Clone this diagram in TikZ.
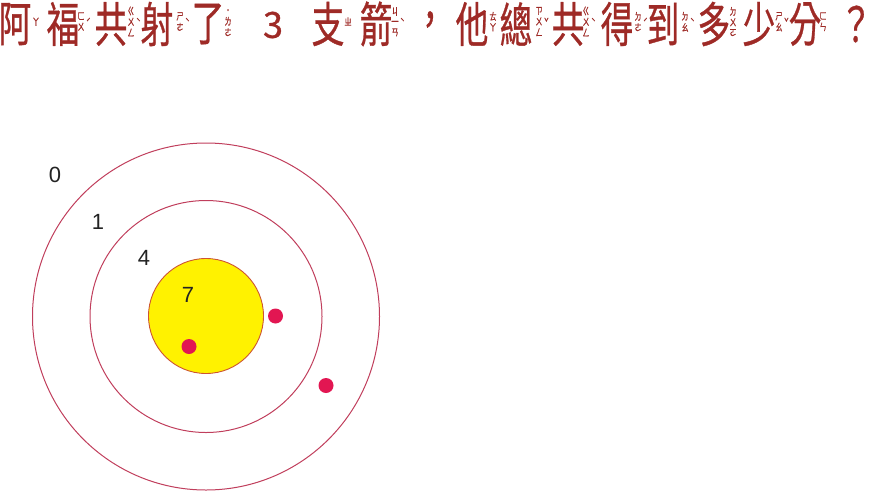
\documentclass[tikz,border=0pt]{standalone}
\usepackage{fontspec}
\usepackage{graphicx}
\setmainfont{Liberation Sans}
\newfontfamily\cjk[FakeBold=0.8]{Noto Sans CJK TC}
\newfontfamily\cjksmall[FakeBold=0.6]{Noto Sans CJK TC}
\definecolor{titlered}{RGB}{158,42,38}
\definecolor{ringc}{RGB}{192,62,92}
\definecolor{innerc}{RGB}{205,85,50}
\definecolor{yel}{RGB}{255,242,0}
\definecolor{dotc}{RGB}{226,22,82}
\definecolor{numc}{RGB}{35,35,35}
\newcommand\bigc[3]{\node[bigch] (#1) at (#2,-24) {\scalebox{0.68}[1]{#3}};}
\newcommand\zhu[4]{\node[zy] (#1) at (#2,-23) {\scalebox{0.72}[1]{\begin{tabular}{@{}c@{}}#3\end{tabular}}};
  \node[tonech, anchor=west] (#1t) at ([xshift=1pt,yshift=1pt]#1.east) {\scalebox{0.8}[1]{#4}};}
\begin{document}
\begin{tikzpicture}[x=1pt,y=1pt,
  bigch/.style={font=\cjk\fontsize{48}{48}\selectfont, text=titlered, inner sep=0pt},
  zy/.style={font=\cjksmall\fontsize{10}{10}\selectfont, text=titlered, inner sep=0pt},
  tonech/.style={font=\cjksmall\fontsize{10}{10}\selectfont, text=titlered, inner sep=0pt},
  numthree/.style={font=\cjk\fontsize{36}{36}\selectfont, text=titlered, inner sep=0pt},
  ring/.style={circle, draw=ringc, line width=1pt, inner sep=0pt},
  dot/.style={circle, fill=dotc, inner sep=0pt, minimum size=15pt},
  num/.style={font=\fontsize{22}{22}\selectfont, text=numc, inner sep=0pt}]
\useasboundingbox (0,0) rectangle (874,-490);
% title
\bigc{c1}{15}{阿} \zhu{z1}{36}{ㄚ}{}
\bigc{c2}{63}{福} \zhu{z2}{81}{ㄈ\\ㄨ}{ˊ}
\bigc{c3}{111}{共} \zhu{z3}{131}{ㄍ\\ㄨ\\ㄥ}{ˋ}
\bigc{c4}{157}{射} \zhu{z4}{180}{ㄕ\\ㄜ}{ˋ}
\bigc{c5}{208}{了} \zhu{z5}{228}{˙\\ㄌ\\ㄜ}{}
\node[numthree] (c6) at (273,-25) {3};
\bigc{c7}{328}{支} \zhu{z7}{348}{ㄓ}{}
\bigc{c8}{376}{箭} \zhu{z8}{395}{ㄐ\\一\\ㄢ}{ˋ}
\bigc{c9}{430}{，}
\bigc{c10}{472}{他} \zhu{z10}{493}{ㄊ\\ㄚ}{}
\bigc{c11}{516}{總} \zhu{z11}{539}{ㄗ\\ㄨ\\ㄥ}{ˇ}
\bigc{c12}{568}{共} \zhu{z12}{586}{ㄍ\\ㄨ\\ㄥ}{ˋ}
\bigc{c13}{617}{得} \zhu{z13}{638}{ㄉ\\ㄜ}{ˊ}
\bigc{c14}{663}{到} \zhu{z14}{685}{ㄉ\\ㄠ}{ˋ}
\bigc{c15}{714}{多} \zhu{z15}{733}{ㄉ\\ㄨ\\ㄛ}{}
\bigc{c16}{759}{少} \zhu{z16}{779}{ㄕ\\ㄠ}{ˇ}
\bigc{c17}{805}{分} \zhu{z17}{823}{ㄈ\\ㄣ}{}
\bigc{c18}{856}{？}
% target
\node[ring, minimum size=347pt] (outer) at (206,-316.5) {};
\node[ring, minimum size=232pt] (mid) at (206,-316.5) {};
\node[circle, draw=innerc, fill=yel, line width=0.9pt, inner sep=0pt, minimum size=115pt] (inner) at (206,-316) {};
\node[dot] (d1) at (275.5,-316) {};
\node[dot] (d2) at (189,-346.5) {};
\node[dot] (d3) at (326,-385.5) {};
\node[num] (n0) at (55,-175) {0};
\node[num] (n1) at (98,-222) {1};
\node[num] (n4) at (144,-258) {4};
\node[num] (n7) at (188,-295) {7};
\end{tikzpicture}
\end{document}
